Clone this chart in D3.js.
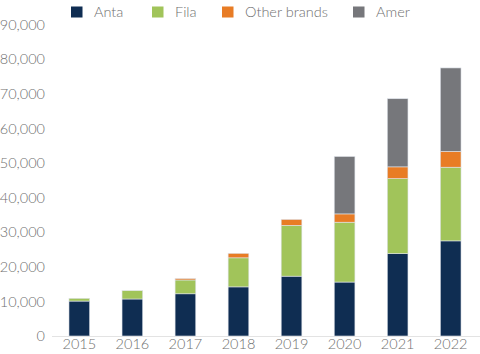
<!DOCTYPE html>
<html><head><meta charset="utf-8">
<script src="https://cdn.jsdelivr.net/npm/d3@7"></script>
<style>
body{margin:0;background:#fff;}
text{font-family:Lato,"Open Sans",sans-serif;font-weight:300;fill:#6f6f6f;}
</style></head>
<body><svg id="c" width="480" height="354"></svg>
<script>
const years = ["2015","2016","2017","2018","2019","2020","2021","2022"];
const anta  = [10100,10700,12200,14200,17300,15600,23800,27500];
const fila  = [800,2400,4000,8400,14700,17300,21700,21300];
const other = [0,0,400,1300,1700,2400,3400,4600];
const amer  = [0,0,0,0,0,16600,19700,24100];
const seriesNames = ["Anta","Fila","Other brands","Amer"];
const colors = ["#0f2d52","#a1c45a","#e87c25","#76777b"];
const yTicks = [0,10000,20000,30000,40000,50000,60000,70000,80000,90000];

const rows = years.map((y,i)=>({year:y,"Anta":anta[i],"Fila":fila[i],"Other brands":other[i],"Amer":amer[i]}));
const svg = d3.select("#c");
const x = d3.scaleBand().domain(years).range([52,478]).paddingInner(0.61).paddingOuter(0.32);
const y = d3.scaleLinear().domain([0,90000]).range([336,24.7]);

// axis line
svg.append("line").attr("x1",52).attr("x2",480).attr("y1",336.5).attr("y2",336.5).attr("stroke","#e3e3e3");

const stack = d3.stack().keys(seriesNames)(rows);
svg.selectAll("g.s").data(stack).join("g").attr("fill",(d,i)=>colors[i])
  .selectAll("rect").data(d=>d.filter(v=>v[1]-v[0]>0)).join("rect")
  .attr("x",d=>x(d.data.year)).attr("width",x.bandwidth())
  .attr("y",d=>y(d[1])).attr("height",d=>y(d[0])-y(d[1]))
  .attr("stroke","#dfe3ea").attr("stroke-width",0.6);

const yAxis = d3.axisLeft(y).tickValues(yTicks).tickSize(0).tickFormat(d3.format(","));
svg.append("g").attr("transform","translate(48,0)").call(yAxis)
  .call(g=>g.select(".domain").remove())
  .selectAll("text").attr("font-size",14.5).attr("fill","#6f6f6f").style("font-family","Lato,sans-serif").style("font-weight",300);

const xAxis = d3.axisBottom(x).tickSize(0);
svg.append("g").attr("transform","translate(0,338)").call(xAxis)
  .call(g=>g.select(".domain").remove())
  .selectAll("text").attr("font-size",14.5).attr("fill","#6f6f6f").attr("dy","0.55em").style("font-family","Lato,sans-serif").style("font-weight",300);

const legX = [71,152,222,353];
const leg = svg.append("g");
seriesNames.forEach((n,i)=>{
  leg.append("rect").attr("x",legX[i]).attr("y",6.5).attr("width",11.5).attr("height",11).attr("fill",colors[i]);
  leg.append("text").attr("x",legX[i]+23).attr("y",12).attr("dy","0.35em").attr("font-size",14.5).text(n);
});
</script></body></html>
